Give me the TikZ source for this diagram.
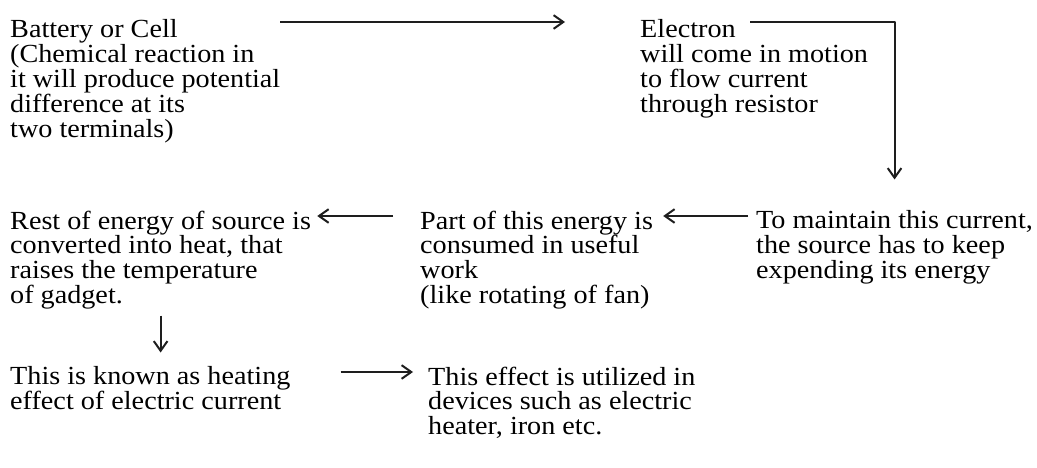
\documentclass[tikz,border=0pt]{standalone}
\usepackage{fontspec}
\setmainfont{Liberation Serif}
\newfontfamily\flowserif[FakeStretch=1.08]{Liberation Serif}
\usepackage{tikz}
\usetikzlibrary{arrows.meta,positioning,calc}
\definecolor{flink}{RGB}{30,30,30}
\newcommand\flowfont{\flowserif\fontsize{26.1}{24.9}\selectfont\lineskiplimit=-50pt\relax}
\tikzset{
  txt/.style={
    anchor=north west, align=left, inner sep=0pt,
    font=\flowfont, text=black
  },
  arr/.style={-{Straight Barb[length=3.4mm,width=4.8mm,line width=2pt]}, draw=flink, line width=2pt},
  every picture/.append style={line join=round}
}
\begin{document}
\begin{tikzpicture}[x=1pt, y=-1pt]
  \useasboundingbox (0,0) rectangle (1037,468);
  \node[txt] (cell) at (10,19.5)
    {Battery or Cell\\
     (Chemical reaction in\\
     it will produce potential\\
     difference at its\\
     two terminals)};
  \node[txt] (electron) at (640,19.5)
    {Electron\\
     will come in motion\\
     to flow current\\
     through resistor};
  \node[txt] (rest) at (10,210.5)
    {Rest of energy of source is\\
     converted into heat, that\\
     raises the temperature\\
     of gadget.};
  \node[txt] (part) at (420,210.5)
    {Part of this energy is\\
     consumed in useful\\
     work\\
     (like rotating of fan)};
  \node[txt] (maintain) at (756,210.5)
    {To maintain this current,\\
     the source has to keep\\
     expending its energy};
  \node[txt] (heating) at (10,366.5)
    {This is known as heating\\
     effect of electric current};
  \node[txt] (devices) at (428,366.5)
    {This effect is utilized in\\
     devices such as electric\\
     heater, iron etc.};
  % first row
  \draw[arr, shorten >=75pt] ([yshift=-2.5pt]cell.north east) -- ([yshift=-2.5pt]cell.north east -| electron.west);
  \draw[arr, shorten >=31pt] ([xshift=110pt,yshift=-2.5pt]electron.north west) -| (maintain.north);
  % second row
  \draw[arr, shorten <=8pt, shorten >=10pt] ([yshift=-5.5pt]maintain.north west) -- ([yshift=-5.5pt]maintain.north west -| part.east);
  \draw[arr, shorten <=27pt, shorten >=6pt] ([yshift=-5.5pt]part.north west) -- ([yshift=-5.5pt]part.north west -| rest.east);
  \draw[arr, shorten <=6pt, shorten >=14pt] (rest.south) -- (rest.south |- heating.north);
  % third row
  \draw[arr, shorten <=50pt, shorten >=15pt] ([yshift=-5.5pt]heating.north east) -- ([yshift=-5.5pt]heating.north east -| devices.west);
\end{tikzpicture}
\end{document}
